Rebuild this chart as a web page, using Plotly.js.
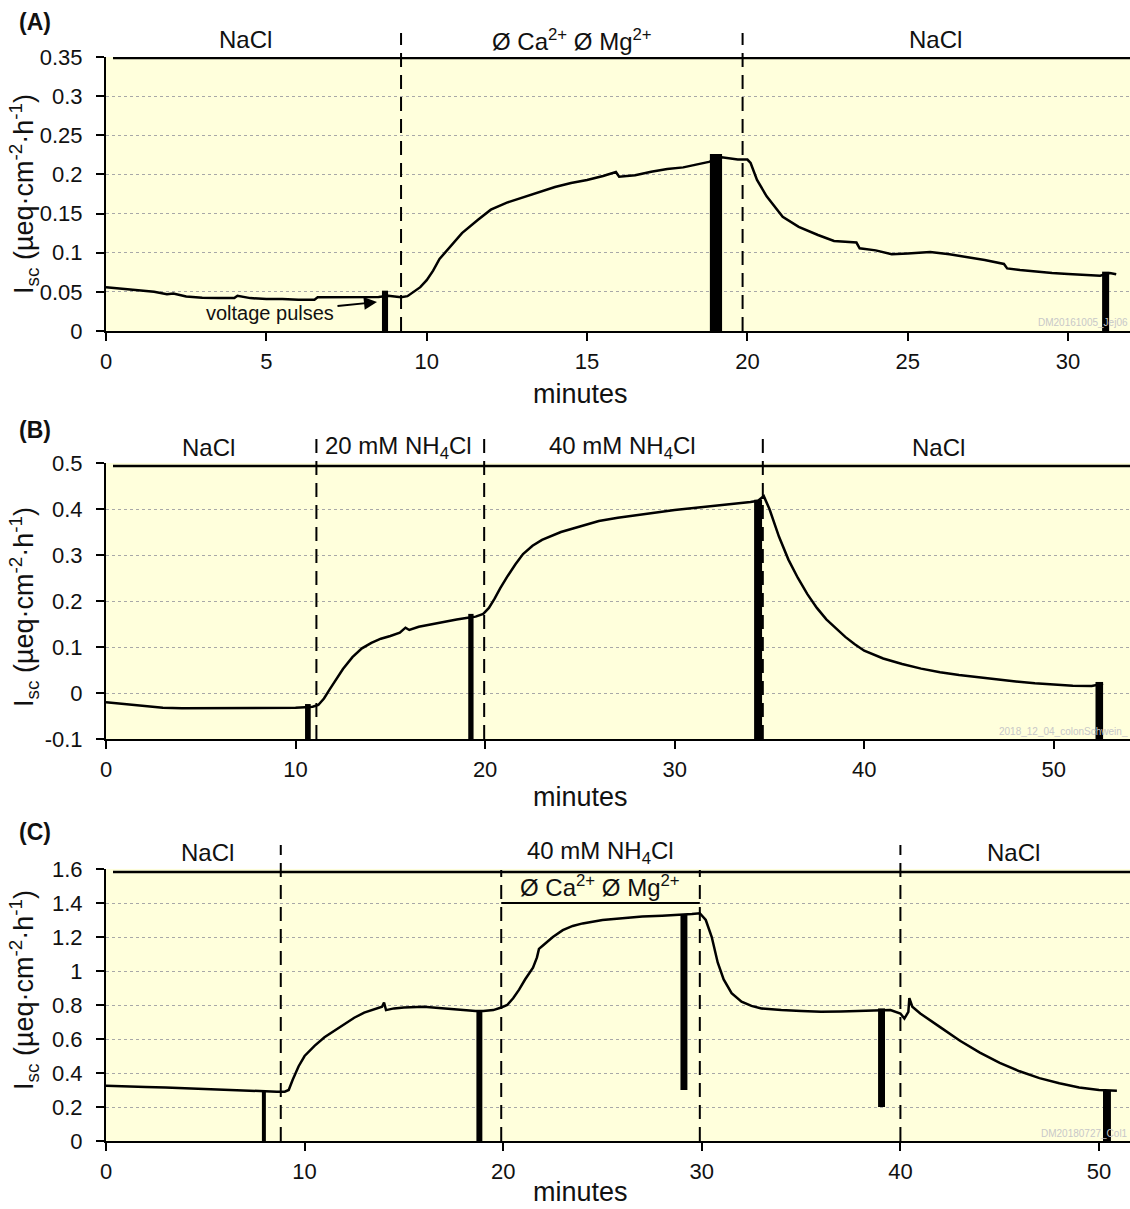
<!DOCTYPE html>
<html>
<head>
<meta charset="utf-8">
<script src="https://cdn.plot.ly/plotly-3.0.1.min.js"></script>
<style>html,body{margin:0;padding:0;background:#fff;}#chart{width:1130px;height:1209px;}</style>
</head>
<body>
<div id="chart"></div>
<script>
// ---------- Panel A data ----------
var timeA = [0,0.5,1,1.5,1.9,2.1,2.5,3,3.5,4,4.1,4.5,5,5.5,6,6.5,6.6,7,7.5,8,8.5,8.8,9.0,9.2,9.4,9.6,9.8,10.0,10.2,10.4,10.7,11.1,11.6,12.0,12.5,13,13.5,14,14.5,15,15.5,15.9,16.0,16.5,17,17.5,18,18.5,18.8,19.2,19.4,19.7,20.0,20.1,20.3,20.6,21.1,21.6,22.2,22.7,23.4,23.5,24,24.5,25,25.7,26.3,26.8,27.4,28.0,28.1,28.5,29,29.5,30,30.5,31,31.3,31.5];
var iscA  = [0.056,0.054,0.052,0.050,0.047,0.048,0.044,0.0425,0.042,0.042,0.045,0.042,0.041,0.041,0.040,0.040,0.043,0.043,0.043,0.0435,0.0435,0.045,0.044,0.043,0.0445,0.050,0.056,0.065,0.077,0.092,0.106,0.125,0.142,0.155,0.164,0.171,0.178,0.184,0.189,0.193,0.198,0.203,0.197,0.199,0.2035,0.207,0.209,0.213,0.216,0.222,0.2205,0.219,0.219,0.2146,0.193,0.172,0.146,0.133,0.1226,0.115,0.113,0.1056,0.103,0.098,0.099,0.101,0.098,0.095,0.0907,0.0856,0.080,0.078,0.0758,0.074,0.0728,0.072,0.0707,0.074,0.0724];
var pulseA_t = [8.7, 19.02, 31.17];
var pulseA_w = [0.19, 0.38, 0.22];
var pulseA_lo = [0, 0, 0];
var pulseA_hi = [0.0515, 0.226, 0.0758];
var switchA = [9.2, 19.85];

// ---------- Panel B data ----------
var timeB = [0,1,2,3,4,5,6,7,8,9,10,10.5,10.9,11.2,11.5,11.8,12.1,12.5,13,13.5,14,14.5,15,15.5,15.8,16,16.5,17,17.5,18,18.5,19,19.5,19.9,20.2,20.5,20.8,21.2,21.6,22,22.5,23,24,25,26,27,28,29,30,31,32,33,34,34.4,34.7,35,35.5,36,36.5,37,37.5,38,38.5,39,39.5,40,41,42,43,44,45,46,47,48,49,50,51,52,52.6];
var iscB  = [-0.02,-0.024,-0.028,-0.032,-0.033,-0.033,-0.032,-0.033,-0.033,-0.032,-0.032,-0.031,-0.030,-0.026,-0.012,0.008,0.028,0.052,0.078,0.097,0.109,0.118,0.124,0.131,0.142,0.137,0.144,0.148,0.153,0.157,0.160,0.163,0.166,0.172,0.185,0.205,0.228,0.255,0.280,0.302,0.320,0.333,0.350,0.362,0.374,0.381,0.387,0.393,0.398,0.402,0.406,0.410,0.415,0.418,0.428,0.400,0.340,0.290,0.250,0.215,0.185,0.160,0.140,0.122,0.106,0.092,0.075,0.063,0.053,0.045,0.039,0.034,0.029,0.025,0.021,0.018,0.016,0.015,0.020];
var pulseB_t = [10.65, 19.25, 34.4, 52.4];
var pulseB_w = [0.3, 0.28, 0.42, 0.4];
var pulseB_lo = [-0.1, -0.1, -0.1, -0.1];
var pulseB_hi = [-0.024, 0.172, 0.42, 0.024];
var switchB = [11.1, 19.95, 34.65];

// ---------- Panel C data ----------
var timeC = [0,1,2,3,4,5,6,7,7.8,8.2,8.6,9.0,9.2,9.4,9.7,10,10.5,11,11.5,12,12.5,13,13.5,13.9,14.0,14.1,14.5,15,16,17,18,18.6,19,19.5,19.9,20.2,20.5,20.8,21.1,21.5,21.7,21.8,22,22.5,23,23.5,24,25,26,27,28,29,29.5,29.9,30.2,30.5,30.8,31.1,31.5,32,32.5,33,34,35,36,37,38,39,39.5,40,40.2,40.4,40.45,40.6,41,42,43,44,45,46,47,48,49,50,50.9];
var iscC  = [0.325,0.32,0.318,0.315,0.31,0.305,0.30,0.297,0.295,0.292,0.29,0.29,0.30,0.36,0.44,0.50,0.56,0.61,0.65,0.69,0.725,0.755,0.775,0.79,0.815,0.77,0.78,0.785,0.79,0.78,0.77,0.765,0.765,0.77,0.785,0.80,0.84,0.89,0.95,1.02,1.08,1.13,1.15,1.20,1.24,1.265,1.28,1.30,1.31,1.32,1.325,1.33,1.335,1.34,1.30,1.20,1.05,0.95,0.87,0.82,0.795,0.78,0.77,0.765,0.76,0.762,0.765,0.768,0.77,0.75,0.72,0.76,0.84,0.79,0.75,0.67,0.59,0.52,0.46,0.41,0.37,0.34,0.315,0.30,0.295];
var pulseC_t = [7.95, 18.8, 29.1, 39.05, 50.4];
var pulseC_w = [0.2, 0.3, 0.35, 0.35, 0.4];
var pulseC_lo = [0, 0, 0.3, 0.2, 0];
var pulseC_hi = [0.29, 0.77, 1.33, 0.78, 0.3];
var switchC = [8.8, 19.9, 29.9, 40.0];

// ---------- Tick labels ----------
var ticksAx = [0,5,10,15,20,25,30];
var ticksAy = [0,0.05,0.1,0.15,0.2,0.25,0.3,0.35];
var labelsAy = ["0","0.05","0.1","0.15","0.2","0.25","0.3","0.35"];
var ticksBx = [0,10,20,30,40,50];
var ticksBy = [-0.1,0,0.1,0.2,0.3,0.4,0.5];
var labelsBy = ["-0.1","0","0.1","0.2","0.3","0.4","0.5"];
var ticksCx = [0,10,20,30,40,50];
var ticksCy = [0,0.2,0.4,0.6,0.8,1,1.2,1.4,1.6];
var labelsCy = ["0","0.2","0.4","0.6","0.8","1","1.2","1.4","1.6"];

var FONT = "Liberation Sans, Arial, Helvetica, sans-serif";
var W = 1130, H = 1209;
function px(x){ return x / W; }
function py(y){ return 1 - y / H; }

function diff(hi, lo){ return hi.map(function(v,i){ return v - lo[i]; }); }

var traces = [];
function addPanel(t, v, pt, pw, plo, phi, xa, ya){
  traces.push({type:'bar', x:pt, y:diff(phi,plo), base:plo, width:pw, xaxis:xa, yaxis:ya,
    marker:{color:'#000', line:{width:0}}, hoverinfo:'skip', showlegend:false});
  traces.push({type:'scatter', mode:'lines', x:t, y:v, xaxis:xa, yaxis:ya,
    line:{color:'#000', width:2.5}, hoverinfo:'skip', showlegend:false});
}
addPanel(timeA, iscA, pulseA_t, pulseA_w, pulseA_lo, pulseA_hi, 'x', 'y');
addPanel(timeB, iscB, pulseB_t, pulseB_w, pulseB_lo, pulseB_hi, 'x2', 'y2');
addPanel(timeC, iscC, pulseC_t, pulseC_w, pulseC_lo, pulseC_hi, 'x3', 'y3');

function xax(range, ticks, anchor){
  return {domain:[106/W, 1], range:range, anchor:anchor, tickmode:'array', tickvals:ticks,
    ticks:'outside', ticklen:8, tickwidth:2, tickcolor:'#000', showline:true, linewidth:2, linecolor:'#000',
    showgrid:false, zeroline:false, tickfont:{family:FONT, size:22, color:'#111'}, ticklabelstandoff:2};
}
function yax(domain, range, ticks, labels, anchor){
  return {domain:domain, range:range, anchor:anchor, tickmode:'array', tickvals:ticks, ticktext:labels,
    ticks:'outside', ticklen:8, tickwidth:2, tickcolor:'#000', showline:true, linewidth:2, linecolor:'#000',
    showgrid:true, gridcolor:'#a8a8a8', griddash:'dot', gridwidth:1, zeroline:false,
    tickfont:{family:FONT, size:22, color:'#111'}, ticklabelstandoff:9};
}

var shapes = [];
function dashed(xs, xref, topPx, botPx){
  xs.forEach(function(x){
    shapes.push({type:'line', xref:xref, yref:'paper', x0:x, x1:x, y0:py(botPx), y1:py(topPx),
      line:{color:'#000', width:2, dash:'14px,8px'}});
  });
}
dashed(switchA, 'x', 33, 331);
dashed(switchB, 'x2', 437, 739);
dashed([switchC[0], switchC[3]], 'x3', 845, 1141);
dashed([switchC[1], switchC[2]], 'x3', 870, 1141);
// top solution bars
shapes.push({type:'line', xref:'paper', yref:'y', x0:px(113), x1:1, y0:0.3487, y1:0.3487, line:{color:'#000', width:2.5}});
shapes.push({type:'line', xref:'paper', yref:'y2', x0:px(113), x1:1, y0:0.4935, y1:0.4935, line:{color:'#000', width:2.5}});
shapes.push({type:'line', xref:'paper', yref:'y3', x0:px(113), x1:1, y0:1.582, y1:1.582, line:{color:'#000', width:2.5}});
// Ca/Mg-free bar in panel C
shapes.push({type:'line', xref:'x3', yref:'y3', x0:switchC[1], x1:switchC[2], y0:1.4, y1:1.4, line:{color:'#000', width:2}});

var ann = [];
function txt(x, y, s, size, opts){
  var a = {xref:'paper', yref:'paper', x:px(x), y:py(y), text:s, showarrow:false,
    font:{family:FONT, size:size, color:'#111'}, xanchor:'center', yanchor:'middle'};
  for (var k in opts) a[k] = opts[k];
  ann.push(a);
}
// panel letters
txt(17, 22, '<b>(A)</b>', 23, {xanchor:'left'});
txt(17, 430, '<b>(B)</b>', 23, {xanchor:'left'});
txt(17, 832, '<b>(C)</b>', 23, {xanchor:'left'});
// solution labels
txt(245, 40, 'NaCl', 24);
txt(572, 40, 'Ø Ca<sup>2+</sup> Ø Mg<sup>2+</sup>', 24);
txt(935, 40, 'NaCl', 24);
txt(208, 447, 'NaCl', 24);
txt(398, 447, '20 mM NH<sub>4</sub>Cl', 24);
txt(622, 447, '40 mM NH<sub>4</sub>Cl', 24);
txt(938, 447, 'NaCl', 24);
txt(207, 852, 'NaCl', 24);
txt(600, 852, '40 mM NH<sub>4</sub>Cl', 24);
txt(1013, 852, 'NaCl', 24);
txt(600, 886, 'Ø Ca<sup>2+</sup> Ø Mg<sup>2+</sup>', 24);
// x titles
txt(580, 394, 'minutes', 27);
txt(580, 797, 'minutes', 27);
txt(580, 1192, 'minutes', 27);
// y titles
var ytitle = 'I<sub>sc</sub> (µeq·cm<sup>-2</sup>·h<sup>-1</sup>)';
txt(24, 194, ytitle, 27, {textangle:-90});
txt(24, 607, ytitle, 27, {textangle:-90});
txt(24, 990, ytitle, 27, {textangle:-90});
// watermarks
txt(1130, 323, 'DM20161005_Jej06', 10, {xanchor:'right', font:{family:FONT, size:10, color:'#c8c8c8'}});
txt(1130, 731, '2018_12_04_colonSchwein_', 10, {xanchor:'right', font:{family:FONT, size:10, color:'#c8c8c8'}});
txt(1130, 1133, 'DM20180727_Col1', 10, {xanchor:'right', font:{family:FONT, size:10, color:'#c8c8c8'}});
// arrow annotation
ann.push({xref:'x', yref:'y', x:8.45, y:0.037, ax:-107, ay:11, text:'voltage pulses', showarrow:true,
  arrowhead:2, arrowsize:1.3, arrowwidth:2, arrowcolor:'#000', standoff:0, startstandoff:2,
  font:{family:FONT, size:20, color:'#111'}});

var layout = {
  width:W, height:H, margin:{l:0, r:0, t:0, b:0},
  paper_bgcolor:'#fff', plot_bgcolor:'#FFFFDC', showlegend:false, barmode:'overlay',
  xaxis: xax([0, 31.93], ticksAx, 'y'),
  yaxis: yax([py(331), py(57)], [0, 0.35], ticksAy, labelsAy, 'x'),
  xaxis2: xax([0, 54.02], ticksBx, 'y2'),
  yaxis2: yax([py(739), py(463)], [-0.1, 0.5], ticksBy, labelsBy, 'x2'),
  xaxis3: xax([0, 51.56], ticksCx, 'y3'),
  yaxis3: yax([py(1141), py(869)], [0, 1.6], ticksCy, labelsCy, 'x3'),
  shapes: shapes, annotations: ann
};
Plotly.newPlot('chart', traces, layout, {staticPlot:true, displayModeBar:false});
</script>
</body>
</html>
